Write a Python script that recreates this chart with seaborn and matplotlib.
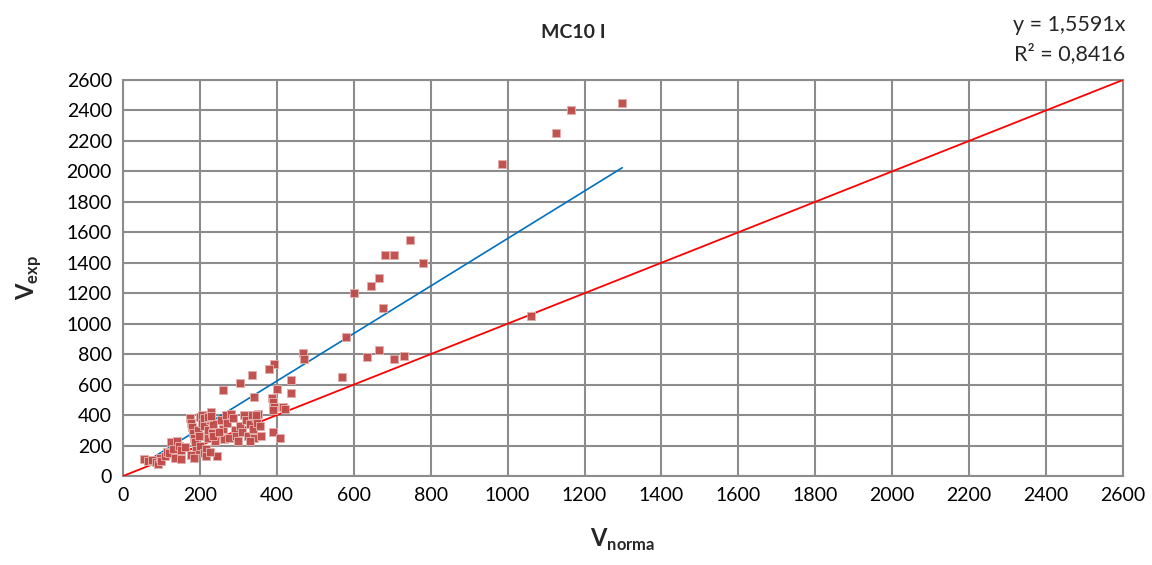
import matplotlib
matplotlib.use("Agg")
from matplotlib import pyplot as plt
import numpy as np
import pandas as pd
import seaborn as sns

# V_norma / V_exp values
v_norma = [1298, 1165, 1125, 985, 1060, 745, 780, 705, 680, 665, 645, 600, 675, 580,
           665, 635, 730, 705, 570, 467, 470, 393, 380, 335, 303, 259, 437, 438, 400,
           341, 387, 389, 393, 391, 415, 420, 389, 408, 244,
           55, 65, 75, 85, 90, 95, 100, 110, 115, 120, 125, 130, 135, 140, 145, 150,
           150, 160,
           175, 178, 180, 182, 185, 188, 190, 178, 185, 195, 198, 200, 205, 205, 210,
           200, 210, 215, 220, 215, 222, 225, 230, 232, 235, 240, 245, 225, 210, 220,
           230, 235,
           255, 260, 262, 268, 270, 275, 280, 285, 290, 295, 300, 305, 310, 250,
           315, 320, 325, 330, 335, 338, 340, 345, 348, 350, 355, 360, 330, 345]
v_exp = [2450, 2400, 2250, 2050, 1050, 1550, 1400, 1450, 1450, 1300, 1250, 1200, 1100, 910,
         825, 780, 790, 770, 650, 806, 768, 733, 700, 663, 608, 565, 630, 543, 571,
         521, 514, 488, 455, 433, 451, 440, 291, 247, 131,
         110, 100, 105, 90, 80, 115, 100, 130, 160, 150, 220, 180, 120, 230, 200, 170,
         110, 190,
         380, 350, 320, 280, 250, 220, 170, 140, 120, 300, 260, 390, 400, 350, 330,
         200, 150, 180, 250, 130, 300, 370, 420, 280, 340, 230, 130, 160, 380, 390,
         395, 260,
         370, 310, 240, 400, 350, 250, 410, 380, 300, 260, 230, 330, 290, 290,
         400, 370, 260, 340, 400, 310, 250, 380, 350, 410, 330, 260, 230, 400]

slope = 1.5591
r2 = 0.8416
axis_max = 2600
ticks = list(range(0, 2601, 200))

df = pd.DataFrame({'V_norma': v_norma, 'V_exp': v_exp})

sns.set_style('white')
plt.rcParams['font.family'] = ['Lato', 'DejaVu Sans']
plt.rcParams['mathtext.fontset'] = 'custom'
plt.rcParams['mathtext.rm'] = 'Lato'
plt.rcParams['mathtext.bf'] = 'Lato:bold'

fig = plt.figure(figsize=(11.52, 5.65), dpi=100)
ax = fig.add_axes([0.1068, 0.1575, 0.868, 0.701])

# trendline through origin and y = x reference
trend_x = np.array([min(v_norma), max(v_norma)])
ax.plot(trend_x, slope * trend_x, color='#0070C0', lw=1.2, zorder=3)
ax.plot([0, axis_max], [0, axis_max], color='#FF0000', lw=1.3, zorder=3)

sns.scatterplot(data=df, x='V_norma', y='V_exp', ax=ax, marker='s', s=30,
                color='#BE4B48', edgecolor='#E3AFAD', linewidth=0.7, alpha=0.95,
                zorder=4)

ax.set_xlim(0, axis_max)
ax.set_ylim(0, axis_max)
ax.set_xticks(ticks)
ax.set_yticks(ticks)
ax.tick_params(axis='both', length=0, labelsize=14, colors='black', pad=8)
ax.grid(True, color='#8C8C8C', lw=1.5)
ax.set_axisbelow(True)
for sp in ax.spines.values():
    sp.set_color('#8C8C8C')
    sp.set_linewidth(1.5)

ax.set_xlabel(r'$\mathbf{V}_{\mathbf{norma}}$', fontsize=17, labelpad=16)
ax.set_ylabel(r'$\mathbf{V}_{\mathbf{exp}}$', fontsize=17, labelpad=16)

fig.text(0.498, 0.943, 'MC10 I', fontsize=14, fontweight='bold',
         ha='center', va='center')
fig.text(0.977, 0.930, 'y = 1,5591x\nR² = 0,8416', fontsize=15.5,
         ha='right', va='center', linespacing=1.45)

fig.savefig('out.png', dpi=100)
